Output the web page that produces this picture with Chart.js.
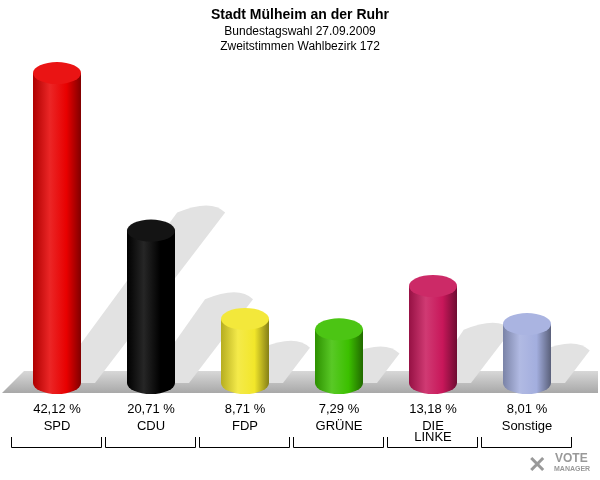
<!DOCTYPE html>
<html><head><meta charset="utf-8">
<script src="https://cdn.jsdelivr.net/npm/chart.js@4"></script>
<style>body{margin:0;background:#fff}#w{width:600px;height:480px}</style>
</head><body><div id="w"><canvas id="c"></canvas></div>
<script>
const categories = ["SPD","CDU","FDP","GRÜNE","DIE LINKE","Sonstige"];
const values = [42.12,20.71,8.71,7.29,13.18,8.01];
const valueLabels = ["42,12 %","20,71 %","8,71 %","7,29 %","13,18 %","8,01 %"];
const colors = ["#e80000","#000000","#f2e62a","#3cc000","#c8175a","#a3aede"];
const titles = ["Stadt Mülheim an der Ruhr","Bundestagswahl 27.09.2009","Zweitstimmen Wahlbezirk 172"];

function shade(hex, f){
  const n=parseInt(hex.slice(1),16);let r=n>>16,g=(n>>8)&255,b=n&255;
  const m=v=>f>0?Math.round(v+(255-v)*f):Math.round(v*(1+f));
  return `rgb(${m(r)},${m(g)},${m(b)})`;
}
const cyl = {
  id:'cyl',
  beforeDatasetsDraw(ch){
    const c=ch.ctx, meta=ch.getDatasetMeta(0);
    const base=meta.data[0].base;
    c.save();
    const fg=c.createLinearGradient(0,base-12,0,base+10);
    fg.addColorStop(0,'#d8d8d8');fg.addColorStop(1,'#a8a8a8');
    c.fillStyle=fg;c.beginPath();
    c.moveTo(2,base+10);c.lineTo(598,base+10);c.lineTo(598,base-12);c.lineTo(24,base-12);c.closePath();c.fill();
    meta.data.forEach((el,i)=>{
      const w=48,cx=el.x,h=base-el.y,sh=h*0.55,dx=h*0.42;
      c.fillStyle='#e2e2e2';c.beginPath();
      c.moveTo(cx-5,base);c.lineTo(cx+w/2+14,base);
      c.lineTo(cx+w/2+14+dx,base-sh);
      c.quadraticCurveTo(cx+w/2+dx,base-sh-14,cx+dx-10,base-sh);
      c.closePath();c.fill();
    });
    c.restore();
  },
  afterDatasetsDraw(ch){
    const c=ch.ctx, meta=ch.getDatasetMeta(0);
    meta.data.forEach((el,i)=>{
      const w=48,cx=el.x,top=el.y,bot=el.base,ry=11,col=colors[i];
      const g=c.createLinearGradient(cx-w/2,0,cx+w/2,0);
      g.addColorStop(0,shade(col,-0.25));g.addColorStop(0.35,shade(col,0.15));
      g.addColorStop(0.7,col);g.addColorStop(1,shade(col,-0.45));
      c.fillStyle=g;c.beginPath();
      c.moveTo(cx-w/2,top);c.lineTo(cx-w/2,bot);
      c.ellipse(cx,bot,w/2,ry,0,Math.PI,0,true);
      c.lineTo(cx+w/2,top);c.closePath();c.fill();
      c.fillStyle=shade(col,0.08);c.beginPath();c.ellipse(cx,top,w/2,ry,0,0,Math.PI*2);c.fill();
      c.fillStyle='#000';c.textAlign='center';c.font='13px Arial, "Liberation Sans"';
      c.fillText(valueLabels[i],cx,413);
      const parts=categories[i]==="DIE LINKE"?["DIE","LINKE"]:[categories[i]];
      parts.forEach((p,k)=>c.fillText(p,cx,430+k*11));
      c.strokeStyle='#000';c.lineWidth=1;c.beginPath();
      c.moveTo(cx-45.5,437);c.lineTo(cx-45.5,447.5);c.lineTo(cx+44.5,447.5);c.lineTo(cx+44.5,437);c.stroke();
    });
    c.textAlign='center';c.fillStyle='#000';
    c.font='bold 14px Arial, "Liberation Sans"';c.fillText(titles[0],300,19);
    c.font='12px Arial, "Liberation Sans"';c.fillText(titles[1],300,35);c.fillText(titles[2],300,50);
    c.fillStyle='#999';c.font='bold 12px Arial, "Liberation Sans"';c.textAlign='left';
    c.fillText('VOTE',555,462);c.font='bold 7px Arial, "Liberation Sans"';c.fillText('MANAGER',554,471);
    c.font='bold 22px Arial';c.fillText('✕',528,472);
  }
};
new Chart(document.getElementById('c'),{
  type:'bar',
  data:{labels:categories,datasets:[{data:values,backgroundColor:'rgba(0,0,0,0)',categoryPercentage:1,barPercentage:0.51}]},
  options:{responsive:true,maintainAspectRatio:false,animation:false,
    layout:{padding:{left:10,right:26,top:46,bottom:97}},
    plugins:{legend:{display:false},tooltip:{enabled:false}},
    scales:{x:{display:false},y:{display:false,min:0,max:45.8}}},
  plugins:[cyl]
});
</script></body></html>
